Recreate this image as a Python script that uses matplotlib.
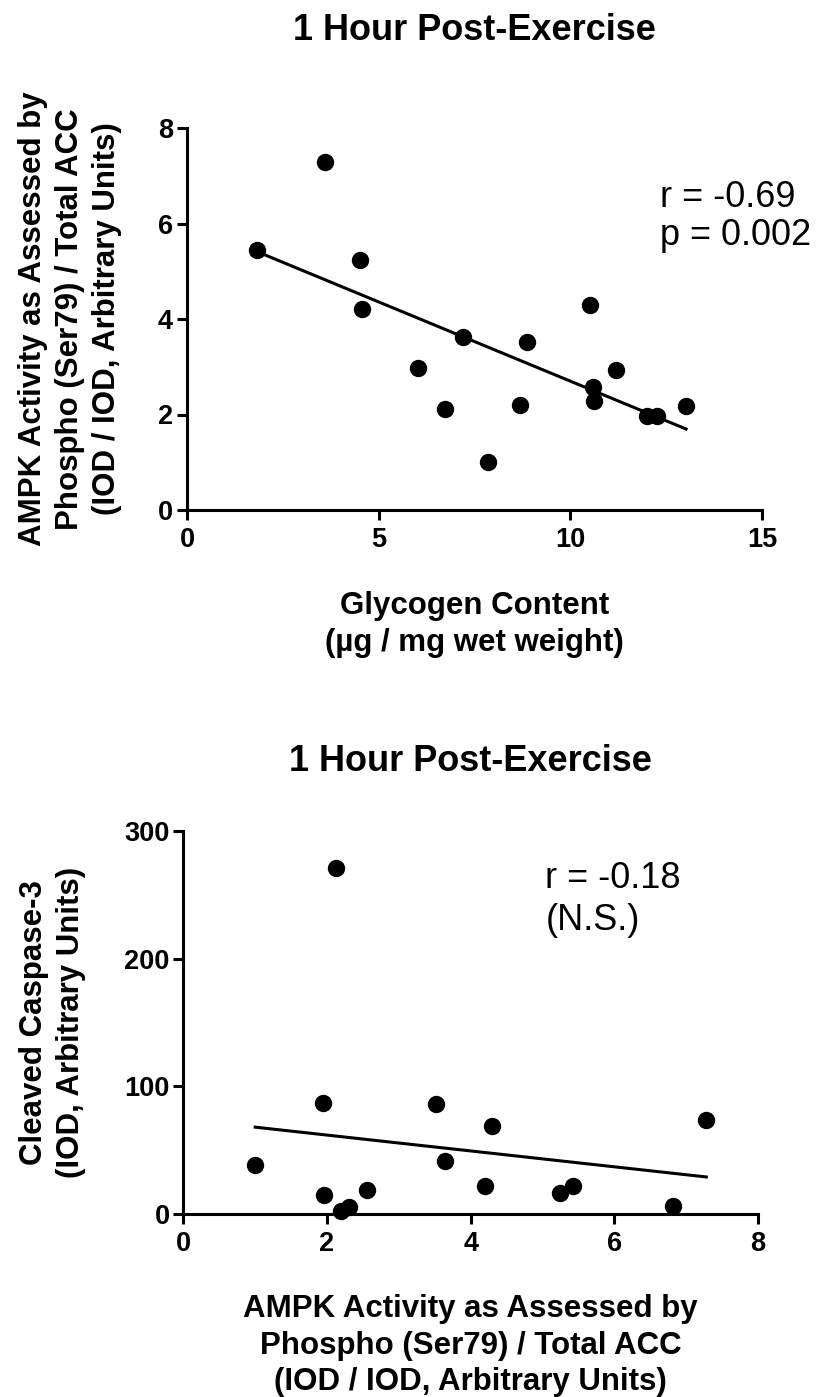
import numpy as np
import matplotlib
matplotlib.use("Agg")
import matplotlib.pyplot as plt

plt.rcParams['font.family'] = ['Liberation Sans', 'DejaVu Sans']

# datos
glycogen = [1.82, 3.60, 4.52, 4.56, 6.03, 6.73, 7.19, 7.85, 8.68, 8.86,
            10.52, 10.60, 10.63, 11.19, 11.99, 12.26, 13.02]
ampk_top = [5.44, 7.29, 5.24, 4.21, 2.98, 2.12, 3.63, 1.01, 2.19, 3.51,
            4.30, 2.57, 2.29, 2.93, 1.97, 1.96, 2.17]

ampk_bottom = [2.13, 1.95, 3.51, 4.30, 7.28, 1.00, 3.64, 1.96, 2.56, 2.19,
               2.30, 4.20, 5.24, 5.43, 6.82]
caspase = [270.7, 86.8, 86.3, 69.3, 73.3, 38.6, 41.5, 15.1, 19.0, 2.0,
           5.7, 22.1, 16.4, 21.6, 6.5]

title = "1 Hour Post-Exercise"
ampk_label = "AMPK Activity as Assessed by\nPhospho (Ser79) / Total ACC\n(IOD / IOD, Arbitrary Units)"
glyc_label = "Glycogen Content\n(\u00b5g / mg wet weight)"
casp_label = "Cleaved Caspase-3\n(IOD, Arbitrary Units)"

W, H = 818, 1397
fig = plt.figure(figsize=(W / 100, H / 100), dpi=100)

ax1 = fig.add_axes([187 / W, 1 - 510 / H, 575 / W, 382 / H])
ax2 = fig.add_axes([183.4 / W, 1 - 1214 / H, 574.6 / W, 383 / H])

lab_kw = dict(fontsize=22.5, fontweight='bold', linespacing=1.3)


def estilo(ax):
    for s in ['top', 'right']:
        ax.spines[s].set_visible(False)
    for s in ['left', 'bottom']:
        ax.spines[s].set_linewidth(2.2)
    ax.tick_params(direction='out', length=7, width=2.2, labelsize=19.5)
    ax.tick_params(axis='x', pad=5)
    ax.tick_params(axis='y', pad=3)
    for lab in ax.get_xticklabels() + ax.get_yticklabels():
        lab.set_fontweight('bold')


def recta(ax, x, y):
    m, b = np.polyfit(x, y, 1)
    xs = np.array([min(x), max(x)])
    ax.plot(xs, m * xs + b, color='black', lw=2.2)


# grafico de arriba
ax1.plot(glycogen, ampk_top, 'o', color='black', markersize=11.5, clip_on=False)
recta(ax1, glycogen, ampk_top)
ax1.set_xlim(0, 15)
ax1.set_ylim(0, 8)
ax1.set_xticks([0, 5, 10, 15])
ax1.set_yticks([0, 2, 4, 6, 8])
estilo(ax1)
ax1.set_xlabel(glyc_label, **lab_kw)
ax1.set_ylabel(ampk_label, **lab_kw)
ax1.xaxis.set_label_coords(0.5, -0.212)
ax1.yaxis.set_label_coords(-0.113, 0.5)
ax1.text(12.35, 6.35, "r = -0.69", fontsize=26, va='baseline')
ax1.text(12.35, 5.55, "p = 0.002", fontsize=26, va='baseline')

# grafico de abajo
ax2.plot(ampk_bottom, caspase, 'o', color='black', markersize=11.5, clip_on=False)
recta(ax2, ampk_bottom, caspase)
ax2.set_xlim(0, 8)
ax2.set_ylim(0, 300)
ax2.set_xticks([0, 2, 4, 6, 8])
ax2.set_yticks([0, 100, 200, 300])
estilo(ax2)
ax2.set_xlabel(ampk_label, **lab_kw)
ax2.set_ylabel(casp_label, **lab_kw)
ax2.xaxis.set_label_coords(0.5, -0.208)
ax2.yaxis.set_label_coords(-0.17, 0.5)
ax2.text(5.04, 255, "r = -0.18", fontsize=26, va='baseline')
ax2.text(5.04, 222.5, "(N.S.)", fontsize=26, va='baseline')

fig.text(474.5 / W, 1 - 40 / H, title, ha='center', va='baseline',
         fontsize=26, fontweight='bold')
fig.text(470.7 / W, 1 - 771 / H, title, ha='center', va='baseline',
         fontsize=26, fontweight='bold')

fig.savefig("out.png", dpi=100)
